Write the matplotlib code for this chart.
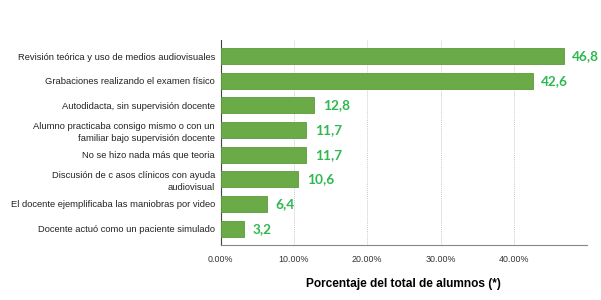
import matplotlib.pyplot as plt
import numpy as np

categories = [
    "Revisión teórica y uso de medios audiovisuales",
    "Grabaciones realizando el examen físico",
    "Autodidacta, sin supervisión docente",
    "Alumno practicaba consigo mismo o con un\nfamiliar bajo supervisión docente",
    "No se hizo nada más que teoria",
    "Discusión de c asos clínicos con ayuda\naudiovisual",
    "El docente ejemplificaba las maniobras por video",
    "Docente actuó como un paciente simulado",
]
values = [46.8, 42.6, 12.8, 11.7, 11.7, 10.6, 6.4, 3.2]
value_labels = ["46,8", "42,6", "12,8", "11,7", "11,7", "10,6", "6,4", "3,2"]
xticks = [0, 10, 20, 30, 40]
xtick_labels = ["0.00%", "10.00%", "20.00%", "30.00%", "40.00%"]

fig = plt.figure(figsize=(6.01, 3.0), dpi=100)
ax = fig.add_axes([0.367, 0.183, 0.61, 0.684])

y = np.arange(len(categories))
ax.barh(y, values, height=0.65, color="#6aab47", edgecolor="#5b9a3c", linewidth=0.6, zorder=3)

for yi, v, lab in zip(y, values, value_labels):
    ax.annotate(lab, (v, yi), xytext=(6, 0), textcoords="offset points",
                va="center", ha="left", color="#2fb84f", fontsize=9.8,
                fontweight="bold", family="Lato")

ax.set_xlim(0, 50)
ax.set_ylim(7.67, -0.66)
ax.set_yticks(y)
ax.set_yticklabels(categories, fontsize=6.75, family="Liberation Sans", color="#222222",
                   linespacing=1.45)
ax.set_xticks(xticks)
ax.set_xticklabels(xtick_labels, fontsize=6.4, family="Liberation Sans", color="#333333")
ax.tick_params(length=0, pad=4)
ax.tick_params(axis="x", pad=7)

for gx in [10, 20, 30, 40, 50]:
    ax.axvline(gx, color="#cccccc", linewidth=0.7, linestyle=(0, (1, 1)), zorder=1)

for side in ["top", "right"]:
    ax.spines[side].set_visible(False)
ax.spines["left"].set_color("#444444")
ax.spines["bottom"].set_color("#888888")
ax.spines["left"].set_linewidth(0.8)
ax.spines["bottom"].set_linewidth(0.8)

ax.set_xlabel("Porcentaje del total de alumnos (*)", fontsize=8.6, fontweight="bold",
              family="Liberation Sans", labelpad=10)

fig.savefig("out.png", dpi=100)
